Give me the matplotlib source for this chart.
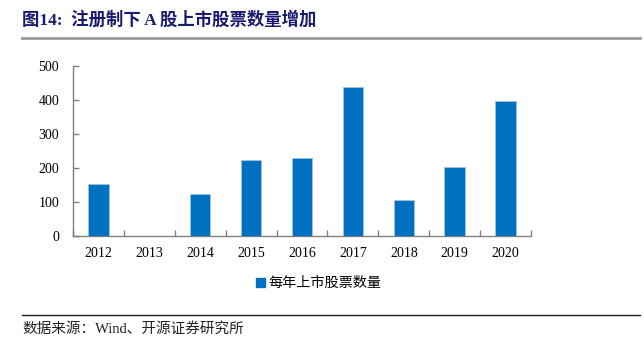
import matplotlib
matplotlib.use("Agg")
import matplotlib.pyplot as plt
from matplotlib.lines import Line2D
from matplotlib.patches import Patch

years = ["2012", "2013", "2014", "2015", "2016", "2017", "2018", "2019", "2020"]
ipo_counts = [154, 0, 125, 223, 228, 438, 105, 203, 396]
y_ticks = [0, 100, 200, 300, 400, 500]
series_name = "每年上市股票数量"
title_text = "图14:  注册制下 A 股上市股票数量增加"
source_text = "数据来源：Wind、开源证券研究所"

plt.rcParams['font.family'] = ['Liberation Serif', 'Noto Sans CJK SC', 'DejaVu Sans']

fig = plt.figure(figsize=(6.44, 3.51), dpi=100)
ax = fig.add_axes([73/644, 1-236/351, 458/644, 170/351])

bar_color = "#0070C0"
x = list(range(len(years)))
ax.bar(x, ipo_counts, width=0.4, color=bar_color, edgecolor="#9DC3E6", linewidth=0.6, zorder=3)

ax.set_xlim(-0.5, len(years) - 0.5)
ax.set_ylim(0, 500)
ax.set_yticks(y_ticks)
ax.set_yticklabels([str(v) for v in y_ticks], fontsize=10, family=['Liberation Serif'])
ax.set_xticks(x)
ax.set_xticklabels(years, fontsize=10, family=['Liberation Serif'])
ax.tick_params(axis='x', which='major', length=0, pad=8)
ax.set_xticks([i + 0.5 for i in range(-1, len(years))], minor=True)
ax.tick_params(axis='x', which='minor', direction='in', length=4, color='#808080', width=1)
ax.tick_params(axis='y', direction='in', length=4, color='#808080', width=1, pad=10)

for s in ['top', 'right']:
    ax.spines[s].set_visible(False)
for s in ['left', 'bottom']:
    ax.spines[s].set_color('#808080')
    ax.spines[s].set_linewidth(1)

# legend
handle = Patch(facecolor=bar_color, edgecolor=bar_color)
leg = fig.legend([handle], [series_name], loc='center', bbox_to_anchor=(319/644, 1-283/351),
                 frameon=False, handlelength=0.6, handleheight=0.6, handletextpad=0.3,
                 prop={'family': ['Noto Sans CJK SC'], 'size': 10.2})

# title
fig.text(22/644, 1-20/351, title_text, fontsize=12.5, fontweight='bold', color='#1A1A70',
         va='center', ha='left', family=['Liberation Serif', 'Noto Sans CJK SC', 'DejaVu Sans'])
fig.add_artist(Line2D([22/644, 640/644], [1-38/351, 1-38/351], color='#999999', linewidth=2))

# bottom rule and source
fig.add_artist(Line2D([22/644, 640/644], [1-315/351, 1-315/351], color='#222222', linewidth=1))
fig.text(22/644, 1-329/351, source_text, fontsize=10.5, color='#222222', va='center', ha='left',
         family=['Liberation Serif', 'Noto Sans CJK SC', 'DejaVu Sans'])

fig.savefig("out.png", dpi=100)
